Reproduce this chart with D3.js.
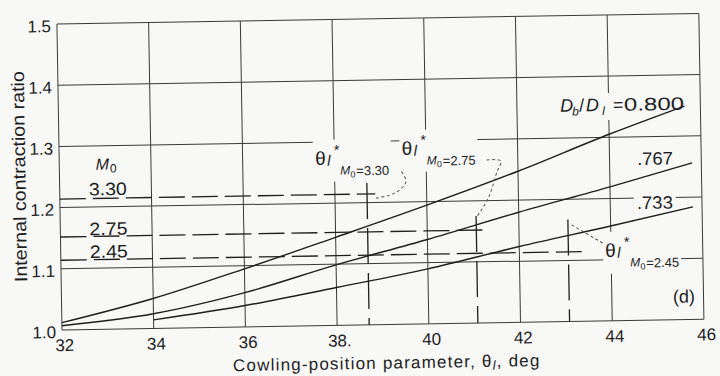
<!DOCTYPE html>
<html lang="en">
<head>
  <meta charset="UTF-8">
  <title>Internal contraction ratio</title>
  <script src="https://d3js.org/d3.v7.min.js"></script>
  <style>
    body { margin: 0; background: #f8f8f7; }
    svg { display: block; font-family: "Liberation Sans", Arial, sans-serif; }
    .grid line { stroke: #3a3a3a; stroke-width: 1; }
    .curve { fill: none; stroke: #1e1e1e; stroke-width: 1.4; }
    .dash { fill: none; stroke: #1e1e1e; stroke-width: 1.3; }
    .leader { fill: none; stroke: #555; stroke-width: 1; stroke-dasharray: 3,2.5; }
    text { fill: #1e1e1e; }
  </style>
</head>
<body>
  <script>
    // axis ticks
    const xTicks = [32, 34, 36, 38, 40, 42, 44, 46];
    const xTickLabels = ["32", "34", "36", "38.", "40", "42", "44", "46"];
    const yTicks = [1.0, 1.1, 1.2, 1.3, 1.4, 1.5];
    const yTickLabels = ["1.0", "1.1", "1.2", "1.3", "1.4", "1.5"];

    // curves, one per Db/Dl (theta, ratio)
    const curve800 = [[32, 1.012], [34, 1.049], [36, 1.095], [38, 1.144], [40, 1.194], [42, 1.247], [44, 1.305], [45.65, 1.349]];
    const curve767 = [[32, 1.007], [34, 1.024], [36, 1.056], [38, 1.099], [40, 1.138], [42, 1.180], [44, 1.219], [45.8, 1.256]];
    const curve733 = [[34, 1.014], [36, 1.035], [38, 1.062], [40, 1.090], [42, 1.124], [44, 1.155], [45.8, 1.184]];

    // Mach number lines
    const machLabels = ["3.30", "2.75", "2.45"];
    const machRatio = [1.214, 1.152, 1.114];
    const thetaStar = [38.70, 41.07, 43.07];
    const dashEnd = [38.88, 41.22, 43.36];
    const starTop = [1.232, 1.175, 1.167];

    const width = 642, height = 306;
    const svg = d3.select("body").append("svg").attr("width", 720).attr("height", 376);

    // the scanned figure is turned a little, so turn the whole plot
    const g = svg.append("g").attr("transform", "rotate(-0.95,62,330) translate(62,24)");

    const x = d3.scaleLinear().domain([32, 46]).range([0, width]);
    const y = d3.scaleLinear().domain([1.0, 1.5]).range([height, 0]);

    const gridLayer = g.append("g").attr("class", "grid");
    const bgLayer = g.append("g");
    const markLayer = g.append("g");
    const textLayer = g.append("g");

    // grid and frame
    gridLayer.selectAll(".v").data(xTicks).join("line")
      .attr("x1", d => x(d)).attr("x2", d => x(d))
      .attr("y1", 0).attr("y2", height);
    gridLayer.selectAll(".h").data(yTicks).join("line")
      .attr("y1", d => y(d)).attr("y2", d => y(d))
      .attr("x1", 0).attr("x2", width);

    // tick labels
    const xAxis = g.append("g").attr("transform", `translate(2,${height})`)
      .call(d3.axisBottom(x).tickValues(xTicks).tickFormat((d, i) => xTickLabels[i]).tickSize(0).tickPadding(9));
    const yAxis = g.append("g").attr("transform", "translate(-6,2)")
      .call(d3.axisLeft(y).tickValues(yTicks).tickFormat((d, i) => yTickLabels[i]).tickSize(0).tickPadding(0));
    [xAxis, yAxis].forEach(a => {
      a.select(".domain").remove();
      a.selectAll("text").attr("font-size", 17).attr("fill", "#1e1e1e")
        .attr("font-family", "Liberation Sans, Arial, sans-serif");
    });

    // axis titles
    const xt = g.append("text").attr("x", x(39.07)).attr("y", height + 44)
      .attr("text-anchor", "middle").attr("font-size", 17).attr("letter-spacing", 1.2);
    xt.append("tspan").text("Cowling-position parameter, θ");
    xt.append("tspan").attr("font-style", "italic").attr("font-size", 13).attr("dy", 3).text("l");
    xt.append("tspan").attr("dy", -3).text(", deg");

    g.append("text").attr("transform", `translate(-34,152) rotate(-90)`)
      .attr("text-anchor", "middle").attr("font-size", 18)
      .attr("textLength", 211).attr("lengthAdjust", "spacingAndGlyphs")
      .text("Internal contraction ratio");

    // curves
    const line = d3.line().x(d => x(d[0])).y(d => y(d[1])).curve(d3.curveMonotoneX);
    markLayer.selectAll(".curve").data([curve800, curve767, curve733]).join("path")
      .attr("class", "curve").attr("d", line);

    // Mach number dashed lines
    machRatio.forEach((r, i) => {
      markLayer.append("line").attr("class", "dash").attr("stroke-dasharray", "26,7")
        .attr("x1", x(32)).attr("x2", x(dashEnd[i]))
        .attr("y1", y(r)).attr("y2", y(r));
      markLayer.append("line").attr("class", "dash").attr("stroke-dasharray", "36,9")
        .attr("x1", x(thetaStar[i])).attr("x2", x(thetaStar[i]))
        .attr("y1", y(starTop[i])).attr("y2", y(1.0));
    });

    // leaders from the theta* labels
    const leader = d3.line().x(d => x(d[0])).y(d => y(d[1])).curve(d3.curveCatmullRom);
    markLayer.append("path").attr("class", "leader")
      .attr("d", leader([[39.46, 1.2495], [39.555, 1.233], [39.31, 1.2148], [38.87, 1.2067]]));
    markLayer.append("path").attr("class", "leader")
      .attr("d", leader([[41.32, 1.2663], [41.63, 1.2642], [41.54, 1.2464], [41.34, 1.2036], [41.10, 1.175]]));
    markLayer.append("path").attr("class", "leader")
      .attr("d", leader([[43.15, 1.158], [43.83, 1.127]]));

    // label helper: a patch of paper behind a label so grid lines break there
    function label(X, Y, pad) {
      const lg = textLayer.append("g").attr("transform", `translate(${x(X)},${y(Y)})`);
      lg.pad = pad;
      return lg;
    }
    function patch(lg) {
      const b = lg.node().getBBox();
      bgLayer.append("rect").attr("transform", lg.attr("transform"))
        .attr("x", b.x - lg.pad).attr("y", b.y - lg.pad)
        .attr("width", b.width + 2 * lg.pad).attr("height", b.height + 2 * lg.pad)
        .attr("fill", "#f8f8f7");
    }
    function stretched(sel, w) {
      return sel.attr("textLength", w).attr("lengthAdjust", "spacingAndGlyphs");
    }

    // Db/Dl label
    const dl = label(42.94, 1.343, 2);
    dl.append("text").attr("font-size", 18).attr("font-style", "italic").text("D");
    dl.append("text").attr("x", 12).attr("y", 4).attr("font-size", 12).attr("font-style", "italic").text("b");
    dl.append("text").attr("x", 19).attr("font-size", 18).text("/");
    dl.append("text").attr("x", 26).attr("font-size", 18).attr("font-style", "italic").text("D");
    dl.append("text").attr("x", 42).attr("y", 4).attr("font-size", 12).attr("font-style", "italic").text("l");
    dl.append("text").attr("x", 53).attr("font-size", 18).text("=");
    stretched(dl.append("text").attr("x", 64).attr("font-size", 18), 60).text("0.800");
    patch(dl);

    const l767 = label(44.60, 1.254, 2);
    stretched(l767.append("text").attr("font-size", 18), 36).text(".767");
    patch(l767);
    const l733 = label(44.58, 1.182, 3);
    stretched(l733.append("text").attr("font-size", 18), 36).text(".733");
    patch(l733);
    const ld = label(45.33, 1.028, 2);
    ld.append("text").attr("font-size", 18).text("(d)");

    // Mach number column
    const mh = label(33.08, 1.261, 2);
    mh.append("text").attr("x", -13).attr("font-size", 16).attr("font-style", "italic").text("M");
    mh.append("text").attr("x", 1).attr("y", 3).attr("font-size", 12).text("0");
    const machY = [1.219, 1.154, 1.117];
    machLabels.forEach((m, i) => {
      stretched(textLayer.append("text").attr("x", x(33.05)).attr("y", y(machY[i]))
        .attr("text-anchor", "middle").attr("font-size", 18), 38).text(m);
    });

    // theta* labels
    function thetaLabel(X, Y, mach) {
      const lg = label(X, Y, 2);
      lg.append("text").attr("font-size", 19).text("θ");
      lg.append("text").attr("x", 12).attr("y", 1).attr("font-size", 15).attr("font-style", "italic").text("l");
      lg.append("text").attr("x", 19).attr("y", -10).attr("font-size", 14).text("*");
      lg.append("text").attr("x", 25).attr("y", 10).attr("font-size", 12).attr("font-style", "italic").text("M");
      lg.append("text").attr("x", 35).attr("y", 13).attr("font-size", 9).text("0");
      lg.append("text").attr("x", 41).attr("y", 11).attr("font-size", 13).text("=" + mach);
      patch(lg);
    }
    thetaLabel(37.58, 1.2627, "3.30");
    thetaLabel(39.47, 1.2768, "2.75");
    thetaLabel(43.87, 1.1046, "2.45");
  </script>
</body>
</html>
